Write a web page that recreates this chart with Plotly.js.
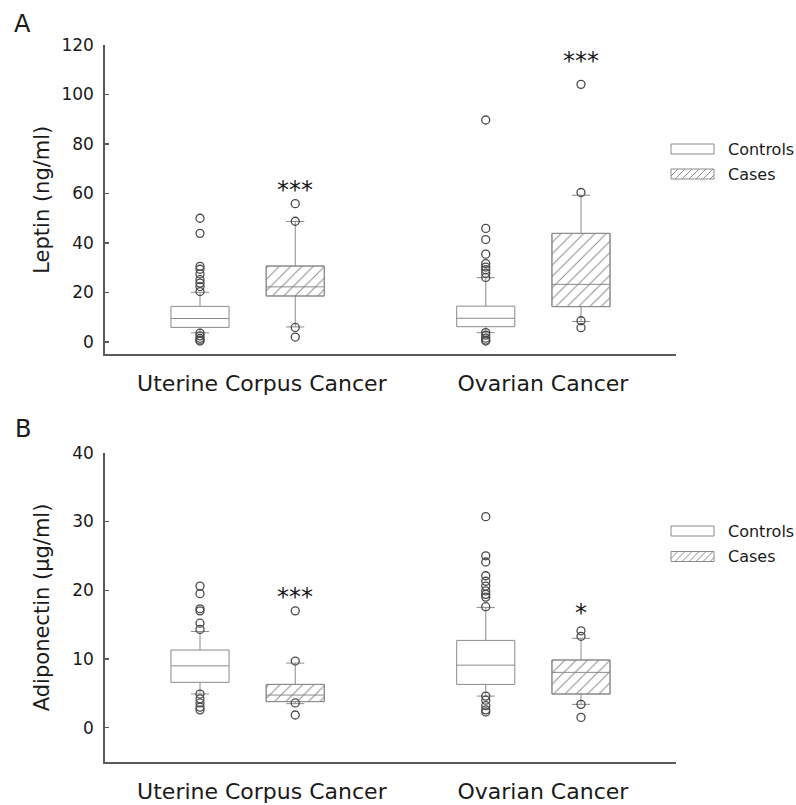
<!DOCTYPE html>
<html><head><meta charset="utf-8">
<script src="https://cdn.plot.ly/plotly-3.0.1.min.js"></script>
<style>html,body{margin:0;padding:0;background:#fff}</style>
</head><body><div id="chart" style="width:796px;height:805px"></div>
<script>
// ---------------- DATA ----------------
const categories = ['Uterine Corpus Cancer', 'Ovarian Cancer'];
const groups = ['Controls', 'Cases'];

// Panel A: Leptin (ng/ml) -- box = 25/50/75th pct, whiskers = 10th/90th pct
const leptinControlsQ1 = [5.9, 6.2];
const leptinControlsMedian = [9.5, 9.6];
const leptinControlsQ3 = [14.4, 14.5];
const leptinControlsP10 = [3.7, 3.8];
const leptinControlsP90 = [20.1, 26.0];
const leptinCasesQ1 = [18.6, 14.3];
const leptinCasesMedian = [22.3, 23.3];
const leptinCasesQ3 = [30.7, 43.9];
const leptinCasesP10 = [6.1, 8.3];
const leptinCasesP90 = [48.7, 59.3];
const leptinControlsOutUterine = [50.0, 43.9, 30.6, 29.4, 27.5, 25.2, 23.8, 22.4, 20.4, 3.6, 2.5, 1.5, 0.8, 0.4];
const leptinControlsOutOvarian = [89.7, 45.9, 41.4, 35.5, 31.7, 30.3, 29.2, 27.8, 26.1, 3.8, 2.8, 1.6, 0.8, 0.4];
const leptinCasesOutUterine = [55.9, 48.8, 5.9, 2.0];
const leptinCasesOutOvarian = [104.1, 60.4, 8.6, 5.8];
const sigLeptin = ['***', '***'];

// Panel B: Adiponectin (ug/ml)
const adipoControlsQ1 = [6.6, 6.3];
const adipoControlsMedian = [9.0, 9.1];
const adipoControlsQ3 = [11.3, 12.7];
const adipoControlsP10 = [4.9, 4.6];
const adipoControlsP90 = [14.0, 17.5];
const adipoCasesQ1 = [3.8, 4.9];
const adipoCasesMedian = [4.75, 8.05];
const adipoCasesQ3 = [6.3, 9.85];
const adipoCasesP10 = [3.5, 3.4];
const adipoCasesP90 = [9.4, 13.0];
const adipoControlsOutUterine = [20.6, 19.5, 17.3, 17.0, 15.2, 14.3, 4.9, 4.2, 3.6, 3.0, 2.6];
const adipoControlsOutOvarian = [30.7, 25.0, 24.1, 22.1, 21.3, 20.6, 19.9, 19.4, 19.0, 17.6, 4.6, 4.0, 3.2, 2.6, 2.3];
const adipoCasesOutUterine = [17.0, 9.7, 3.6, 1.85];
const adipoCasesOutOvarian = [14.1, 13.3, 3.4, 1.5];
const sigAdipo = ['***', '*'];

// ---------------- STYLE / LAYOUT ----------------
const W = 796, H = 805;
const FONT = 'DejaVu Sans';
const BOXLINE = '#8a8a8a';
const AXIS = '#5a5a5a';
const TXT = '#1a1a1a';
const ctrlPos = [1, 4], casePos = [2, 5];
const BW = 0.61;

function boxTrace(xs, q1, med, q3, lo, hi, xa, ya, name) {
  return {type: 'box', name: name, x: xs, q1: q1, median: med, q3: q3, lowerfence: lo, upperfence: hi,
    width: BW, whiskerwidth: 0.31, line: {color: BOXLINE, width: 1}, fillcolor: 'rgba(0,0,0,0)',
    boxpoints: false, xaxis: xa, yaxis: ya, showlegend: false, hoverinfo: 'skip'};
}
function hatchTrace(xs, q1, q3, xa, ya) {
  return {type: 'bar', x: xs, y: q3.map((v, i) => v - q1[i]), base: q1, width: BW,
    marker: {color: '#ffffff', line: {color: BOXLINE, width: 1},
      pattern: {shape: '/', fgcolor: '#8a8a8a', bgcolor: '#ffffff', size: 8, solidity: 0.12}},
    xaxis: xa, yaxis: ya, showlegend: false, hoverinfo: 'skip'};
}
function outTrace(pos, vals, xa, ya) {
  return {type: 'scatter', mode: 'markers', x: vals.map(() => pos), y: vals,
    marker: {symbol: 'circle-open', size: 8, color: '#4a4a4a', line: {width: 1.3}},
    xaxis: xa, yaxis: ya, showlegend: false, hoverinfo: 'skip'};
}

const traces = [
  hatchTrace(casePos, leptinCasesQ1, leptinCasesQ3, 'x', 'y'),
  hatchTrace(casePos, adipoCasesQ1, adipoCasesQ3, 'x2', 'y2'),
  boxTrace(ctrlPos, leptinControlsQ1, leptinControlsMedian, leptinControlsQ3, leptinControlsP10, leptinControlsP90, 'x', 'y', groups[0]),
  boxTrace(casePos, leptinCasesQ1, leptinCasesMedian, leptinCasesQ3, leptinCasesP10, leptinCasesP90, 'x', 'y', groups[1]),
  boxTrace(ctrlPos, adipoControlsQ1, adipoControlsMedian, adipoControlsQ3, adipoControlsP10, adipoControlsP90, 'x2', 'y2', groups[0]),
  boxTrace(casePos, adipoCasesQ1, adipoCasesMedian, adipoCasesQ3, adipoCasesP10, adipoCasesP90, 'x2', 'y2', groups[1]),
  outTrace(ctrlPos[0], leptinControlsOutUterine, 'x', 'y'),
  outTrace(ctrlPos[1], leptinControlsOutOvarian, 'x', 'y'),
  outTrace(casePos[0], leptinCasesOutUterine, 'x', 'y'),
  outTrace(casePos[1], leptinCasesOutOvarian, 'x', 'y'),
  outTrace(ctrlPos[0], adipoControlsOutUterine, 'x2', 'y2'),
  outTrace(ctrlPos[1], adipoControlsOutOvarian, 'x2', 'y2'),
  outTrace(casePos[0], adipoCasesOutUterine, 'x2', 'y2'),
  outTrace(casePos[1], adipoCasesOutOvarian, 'x2', 'y2')
];

const fx = p => p / W, fy = p => 1 - p / H;
const xDomain = [fx(104.75), fx(676.25)];

function xAxis(anchor) {
  return {domain: xDomain, range: [0, 6], anchor: anchor, showline: true, linecolor: AXIS, linewidth: 1.5,
    ticks: '', tickvals: [1.65, 4.6], ticktext: categories, ticklabelstandoff: 9,
    tickfont: {family: FONT, size: 22, color: TXT}, showgrid: false, zeroline: false, fixedrange: true};
}
function yAxis(anchor, domain, range, dtick, title, standoff) {
  return {domain: domain, range: range, anchor: anchor, tick0: 0, dtick: dtick, showline: true,
    linecolor: AXIS, linewidth: 1.5, ticks: 'inside', ticklen: 4, tickcolor: AXIS, tickwidth: 1.2,
    ticklabelstandoff: 6, tickfont: {family: FONT, size: 17, color: TXT}, showgrid: false, zeroline: false,
    title: {text: title, font: {family: FONT, size: 21, color: TXT}, standoff: standoff}, fixedrange: true};
}

const shapes = [];
const annotations = [];
function legendItem(yTop, label, hatched) {
  const xl = 671, xr = 714, h = 10, yb = yTop + h;
  shapes.push({type: 'rect', xref: 'paper', yref: 'paper', x0: fx(xl), x1: fx(xr), y0: fy(yb), y1: fy(yTop),
    line: {color: BOXLINE, width: 1}, fillcolor: '#ffffff', layer: 'above'});
  if (hatched) {
    let d = '';
    for (let x = xl - h; x < xr; x += 7) {
      const t0 = Math.max(0, xl - x), t1 = Math.min(h, xr - x);
      if (t1 > t0) d += `M${fx(x + t0)},${fy(yb - t0)}L${fx(x + t1)},${fy(yb - t1)}`;
    }
    shapes.push({type: 'path', xref: 'paper', yref: 'paper', path: d, line: {color: BOXLINE, width: 1}, layer: 'above'});
  }
  annotations.push({xref: 'paper', yref: 'paper', x: fx(726), y: fy(yTop + h / 2), xanchor: 'left', yanchor: 'middle',
    text: label, showarrow: false, font: {family: FONT, size: 16, color: TXT}});
}
legendItem(144, groups[0], false);
legendItem(169, groups[1], true);
legendItem(526, groups[0], false);
legendItem(551.5, groups[1], true);

// panel letters
annotations.push({xref: 'paper', yref: 'paper', x: fx(12), y: fy(23.5), xanchor: 'left', yanchor: 'middle',
  text: 'A', showarrow: false, font: {family: FONT, size: 24, color: TXT}});
annotations.push({xref: 'paper', yref: 'paper', x: fx(13), y: fy(428.5), xanchor: 'left', yanchor: 'middle',
  text: 'B', showarrow: false, font: {family: FONT, size: 24, color: TXT}});

// significance markers
const sigYLeptin = [63, 115], sigYAdipo = [19.6, 17.2];
sigLeptin.forEach((s, i) => annotations.push({xref: 'x', yref: 'y', x: casePos[i], y: sigYLeptin[i],
  text: s, showarrow: false, yanchor: 'middle', yshift: -4, font: {family: FONT, size: 24, color: TXT}}));
sigAdipo.forEach((s, i) => annotations.push({xref: 'x2', yref: 'y2', x: casePos[i], y: sigYAdipo[i],
  text: s, showarrow: false, yanchor: 'middle', yshift: -4, font: {family: FONT, size: 24, color: TXT}}));

const layout = {
  width: W, height: H, margin: {l: 0, r: 0, t: 0, b: 0},
  paper_bgcolor: '#ffffff', plot_bgcolor: 'rgba(0,0,0,0)',
  showlegend: false, barmode: 'overlay', boxmode: 'overlay',
  font: {family: FONT, color: TXT},
  xaxis: xAxis('y'),
  xaxis2: xAxis('y2'),
  yaxis: yAxis('x', [fy(354.4), fy(45)], [-5, 120], 20, 'Leptin (ng/ml)', 6),
  yaxis2: yAxis('x2', [fy(762.1), fy(452.7)], [-5, 40], 10, 'Adiponectin (μg/ml)', 17),
  shapes: shapes, annotations: annotations
};

Plotly.newPlot('chart', traces, layout, {displayModeBar: false, staticPlot: true});
</script></body></html>
